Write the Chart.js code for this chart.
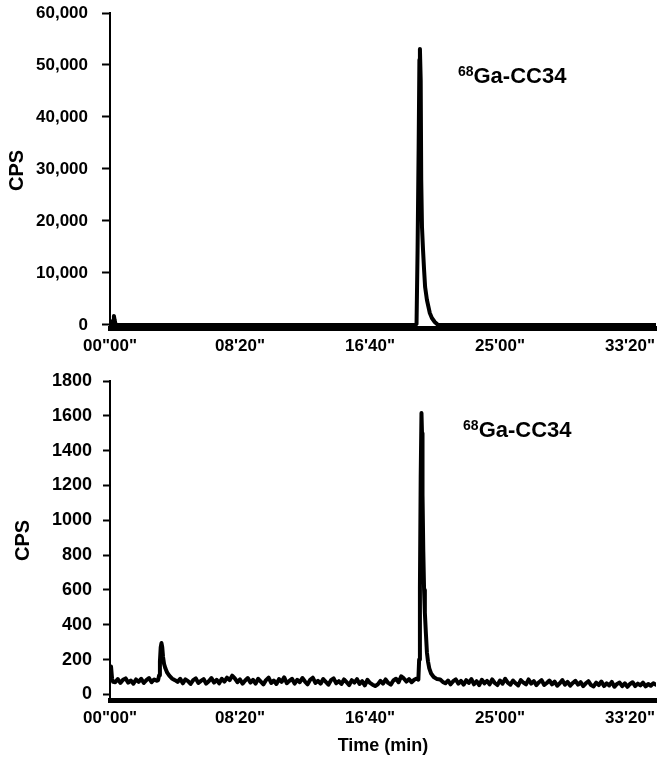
<!DOCTYPE html>
<html>
<head>
<meta charset="utf-8">
<script src="https://cdn.jsdelivr.net/npm/chart.js@4.4.0/dist/chart.umd.min.js"></script>
<style>
  html, body { margin: 0; padding: 0; background: #fff; }
  canvas { display: block; }
</style>
</head>
<body>
<canvas id="topChart" width="666" height="362"></canvas>
<canvas id="bottomChart" width="666" height="399"></canvas>
<script>
// x axis: seconds, labelled as min'sec"
const xTickValues = [0, 500, 1000, 1500, 2000];
const xTickLabels = ['00"00"', "08'20\"", "16'40\"", "25'00\"", "33'20\""];

const topYTicks = [0, 10000, 20000, 30000, 40000, 50000, 60000];
const bottomYTicks = [0, 200, 400, 600, 800, 1000, 1200, 1400, 1600, 1800];

// top trace (CPS)
const topTime = [0, 8, 12, 15, 18, 22, 600, 1175, 1179, 1183, 1187, 1190, 1192, 1195, 1197, 1200,
  1204, 1208, 1212, 1219, 1230, 1238, 1249, 1262, 2100];
const topCps = [0, 0, 900, 1750, 900, 0, 0, 0, 200, 14400, 33600, 51000, 53100, 47000, 28000, 18800,
  14400, 10600, 7300, 4800, 2300, 1350, 580, 0, 0];

// bottom trace (CPS)
const bottomTime = [
  0, 4, 8, 12, 20, 30, 40, 50, 60, 70, 80, 90, 100, 110, 120, 130, 140, 150, 160, 170, 180,
  185, 189, 192, 195, 198, 201, 204, 208, 213, 220, 228, 238, 250,
  260, 270, 280, 290, 300, 310, 320, 330, 340, 350,
  360, 370, 380, 390, 400, 410, 420, 430, 440, 450,
  460, 470, 480, 490, 500, 510, 520, 530, 540, 550,
  560, 570, 580, 590, 600, 610, 620, 630, 640, 650,
  660, 670, 680, 690, 700, 710, 720, 730, 740, 750,
  760, 770, 780, 790, 800, 810, 820, 830, 840, 850,
  860, 870, 880, 890, 900, 910, 920, 930, 940, 950,
  960, 970, 980, 990, 1000, 1010, 1020, 1030, 1040, 1050,
  1060, 1070, 1080, 1090, 1100, 1110, 1120, 1130, 1140, 1150,
  1160, 1170, 1180,
  1186, 1189, 1192, 1195, 1198, 1200, 1202, 1205, 1208, 1211, 1215, 1219, 1223, 1228, 1235, 1245, 1258,
  1270, 1280, 1290, 1300, 1310, 1320, 1330, 1340, 1350, 1360,
  1370, 1380, 1390, 1400, 1410, 1420, 1430, 1440, 1450, 1460,
  1470, 1480, 1490, 1500, 1510, 1520, 1530, 1540, 1550, 1560,
  1570, 1580, 1590, 1600, 1610, 1620, 1630, 1640, 1650, 1660,
  1670, 1680, 1690, 1700, 1710, 1720, 1730, 1740, 1750, 1760,
  1770, 1780, 1790, 1800, 1810, 1820, 1830, 1840, 1850, 1860,
  1870, 1880, 1890, 1900, 1910, 1920, 1930, 1940, 1950, 1960,
  1970, 1980, 1990, 2000, 2010, 2020, 2030, 2040, 2050, 2060,
  2070, 2080, 2090, 2100
];
const bottomCps = [
  150, 160, 90, 72, 70, 88, 66, 84, 92, 68, 80, 62, 86, 72, 90, 66, 82, 94, 70, 86, 78,
  82, 110, 190, 270, 295, 270, 215, 175, 150, 125, 108, 92, 82,
  72, 90, 64, 86, 76, 60, 82, 92, 66, 78,
  88, 62, 76, 94, 68, 84, 64, 90, 74, 96,
  82, 108, 92, 70, 86, 62, 80, 94, 68, 84,
  62, 90, 74, 58, 82, 96, 66, 80, 60, 88,
  72, 98, 64, 78, 90, 62, 84, 70, 94, 74,
  58, 84, 96, 66, 78, 62, 88, 72, 56, 82,
  92, 64, 76, 60, 86, 70, 54, 82, 68, 88,
  60, 76, 52, 84, 66, 56, 48, 58, 78, 62,
  86, 66, 56, 80, 90, 70, 104, 92, 74, 88,
  70, 84, 92,
  85, 200, 617, 1250, 1616, 1500, 1150, 820, 600, 470, 350, 240, 190, 150, 120, 100, 88,
  86, 72, 64, 80, 58, 76, 86, 62, 78, 56,
  82, 66, 88, 58, 76, 54, 84, 64, 78, 58,
  86, 66, 54, 80, 62, 90, 68, 56, 80, 64,
  52, 82, 68, 58, 86, 62, 76, 54, 70, 82,
  54, 66, 80, 58, 74, 50, 64, 82, 56, 72,
  50, 66, 78, 56, 70, 48, 64, 76, 54, 46,
  68, 54, 74, 48, 64, 52, 72, 44, 60, 68,
  48, 64, 44, 60, 70, 48, 62, 52, 68, 46,
  60, 50, 64, 56
];

const FONT = '"Liberation Sans", Arial, sans-serif';
Chart.defaults.color = '#000';
Chart.defaults.font.family = FONT;

// draws the "68Ga-CC34" label at a data position
const peakLabel = {
  id: 'peakLabel',
  afterDatasetsDraw(chart, args, opts) {
    const {ctx, scales: {x, y}} = chart;
    const px = x.getPixelForValue(opts.t);
    const py = y.getPixelForValue(opts.v);
    ctx.save();
    ctx.fillStyle = '#000';
    ctx.textBaseline = 'alphabetic';
    ctx.textAlign = 'left';
    ctx.font = 'bold 14px ' + FONT;
    ctx.fillText('68', px, py - 7);
    const w = ctx.measureText('68').width;
    ctx.font = 'bold 22px ' + FONT;
    ctx.fillText('Ga-CC34', px + w, py);
    ctx.restore();
  }
};

function makeChart(id, times, cps, cfg) {
  return new Chart(document.getElementById(id), {
    type: 'line',
    data: {
      datasets: [{
        data: times.map((t, i) => ({x: t, y: cps[i]})),
        borderColor: '#000',
        borderWidth: 4,
        borderJoinStyle: 'round',
        borderCapStyle: 'round',
        pointRadius: 0,
        tension: 0,
        fill: false
      }]
    },
    plugins: [peakLabel],
    options: {
      responsive: false,
      animation: false,
      events: [],
      layout: {padding: {top: cfg.padTop, right: 10, left: 0, bottom: 0}},
      plugins: {
        legend: {display: false},
        tooltip: {enabled: false},
        peakLabel: cfg.label
      },
      scales: {
        x: {
          type: 'linear',
          min: 0,
          max: 2100,
          afterBuildTicks: (axis) => { axis.ticks = xTickValues.map(v => ({value: v})); },
          afterFit: (axis) => { axis.height = cfg.xHeight; },
          ticks: {
            autoSkip: false,
            maxRotation: 0,
            padding: 8,
            font: {size: 17, weight: 'bold'},
            callback: (v) => xTickLabels[xTickValues.indexOf(v)]
          },
          grid: {display: false, drawTicks: false},
          border: {color: '#000', width: 5},
          title: cfg.xTitle
        },
        y: {
          min: cfg.yMin,
          max: cfg.yMax,
          afterBuildTicks: (axis) => { axis.ticks = cfg.yTicks.map(v => ({value: v})); },
          afterFit: (axis) => {
            axis.width = 110;
            axis.paddingTop = 0;
            axis.paddingBottom = 0;
          },
          ticks: {
            padding: cfg.yPad,
            font: {size: cfg.yFont, weight: 'bold'},
            callback: cfg.yFormat
          },
          grid: {drawOnChartArea: false, drawTicks: true, tickLength: cfg.tickLen, tickWidth: 2, color: '#000'},
          border: {color: '#000', width: 2},
          title: {display: true, text: 'CPS', font: {size: 20, weight: 'bold'}, padding: {top: cfg.yTitlePad, bottom: 0}}
        }
      }
    }
  });
}

makeChart('topChart', topTime, topCps, {
  padTop: 13, xHeight: 34,
  yMin: -580, yMax: 60000, yTicks: topYTicks,
  yPad: 14, tickLen: 8, yFont: 17, yTitlePad: 5,
  yFormat: (v) => v.toLocaleString('en-US'),
  xTitle: {display: false},
  label: {t: 1338, v: 46500}
});

makeChart('bottomChart', bottomTime, bottomCps, {
  padTop: 19, xHeight: 61,
  yMin: -32, yMax: 1800, yTicks: bottomYTicks,
  yPad: 11, tickLen: 7, yFont: 18, yTitlePad: 11,
  yFormat: (v) => String(v),
  xTitle: {display: true, text: 'Time (min)', font: {size: 18, weight: 'bold'}, padding: {top: 0, bottom: 4}},
  label: {t: 1358, v: 1478}
});
</script>
</body>
</html>
